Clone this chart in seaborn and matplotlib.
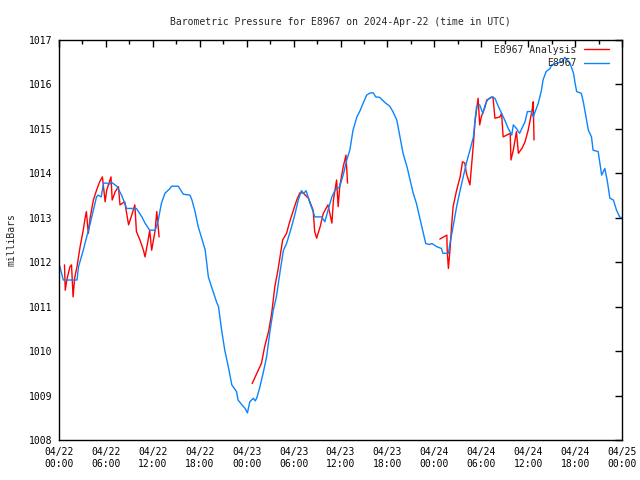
import matplotlib
matplotlib.use("Agg")
import matplotlib.pyplot as plt
import matplotlib.dates as mdates
import pandas as pd
import seaborn as sns

START = pd.Timestamp("2024-04-22 00:00")

# station readings (hours after 04/22 00:00 UTC, millibars)
station_hours = [
    0.1, 0.55, 2.3, 2.5, 3.1, 3.5, 4.0, 4.4, 4.8, 5.0, 5.4, 5.7, 6.1, 6.4, 6.7, 7.4,
    8.0, 8.4, 8.65, 9.9, 10.6, 11.0, 11.6, 12.3, 12.7, 13.1, 13.55, 14.2, 14.4, 15.25,
    15.9, 16.75, 17.0, 17.4, 17.8, 18.2, 18.7, 19.1, 19.5, 20.2, 20.4, 20.8, 21.2,
    21.65, 22.1, 22.7, 22.9, 23.4, 23.8, 24.1, 24.4, 24.85, 25.1, 25.3, 25.7, 26.1,
    26.55, 27.0, 27.4, 27.8, 28.3, 28.7, 29.1, 29.75, 30.2, 30.6, 31.0, 31.3, 31.6,
    32.1, 32.5, 32.7, 33.6, 34.0, 34.4, 34.9, 35.3, 35.9, 36.4, 36.8, 37.2, 37.6,
    38.1, 38.5, 38.9, 39.35, 39.8, 40.2, 40.5, 41.0, 41.7, 42.3, 42.7, 43.2, 43.6,
    44.0, 44.5, 44.9, 45.3, 45.7, 46.2, 46.6, 46.9, 47.4, 47.7, 48.3, 48.9, 49.1,
    49.8, 50.0, 50.4, 50.85, 51.3, 51.7, 52.1, 52.55, 53.0, 53.2, 53.4, 53.8, 54.2,
    54.5, 54.8, 55.3, 55.75, 56.2, 56.6, 57.0, 57.45, 57.9, 58.1, 58.5, 58.9, 59.2,
    59.6, 59.9, 60.4, 60.65, 60.9, 61.3, 61.7, 61.9, 62.3, 62.8, 63.0, 64.3, 64.7,
    65.35, 65.8, 66.0, 66.2, 66.8, 67.05, 67.7, 68.1, 68.3, 68.95, 69.2, 69.4, 69.8,
    70.1, 70.45, 70.9, 71.3, 71.7, 72.0,
]
station_mb = [
    1011.91, 1011.6, 1011.6, 1011.9, 1012.27, 1012.54, 1012.88, 1013.17, 1013.47,
    1013.51, 1013.47, 1013.78, 1013.78, 1013.75, 1013.8, 1013.71, 1013.51, 1013.33,
    1013.21, 1013.21, 1013.02, 1012.88, 1012.72, 1012.72, 1012.95, 1013.33, 1013.55,
    1013.66, 1013.71, 1013.71, 1013.53, 1013.51, 1013.4, 1013.14, 1012.8, 1012.57,
    1012.27, 1011.67, 1011.45, 1011.08, 1011.0, 1010.47, 1010.02, 1009.65, 1009.24,
    1009.09, 1008.9, 1008.79, 1008.71, 1008.61, 1008.86, 1008.94, 1008.88, 1008.95,
    1009.2, 1009.5, 1009.87, 1010.47, 1010.92, 1011.22, 1011.82, 1012.27, 1012.42,
    1012.8, 1013.1, 1013.4, 1013.61, 1013.55, 1013.61, 1013.33, 1013.14, 1013.02,
    1013.02, 1012.91, 1013.17, 1013.47, 1013.62, 1013.7, 1014.0, 1014.3, 1014.53,
    1014.97, 1015.27, 1015.41, 1015.58, 1015.76, 1015.81, 1015.81, 1015.72, 1015.71,
    1015.59, 1015.51, 1015.39, 1015.2, 1014.82, 1014.45, 1014.15, 1013.85, 1013.55,
    1013.33, 1012.95, 1012.65, 1012.42, 1012.4, 1012.42, 1012.35, 1012.31, 1012.2,
    1012.2, 1012.42, 1012.8, 1013.25, 1013.62, 1013.92, 1014.23, 1014.52, 1014.82,
    1015.2, 1015.5, 1015.54, 1015.35, 1015.54, 1015.65, 1015.72, 1015.69, 1015.5,
    1015.35, 1015.2, 1015.01, 1014.86, 1015.09, 1015.01, 1014.9, 1015.01, 1015.16,
    1015.39, 1015.39, 1015.27, 1015.39, 1015.58, 1015.87, 1016.1, 1016.29, 1016.36,
    1016.44, 1016.51, 1016.61, 1016.48, 1016.25, 1016.03, 1015.84, 1015.8, 1015.61,
    1014.97, 1014.82, 1014.52, 1014.49, 1014.19, 1013.96, 1014.11, 1013.85, 1013.44,
    1013.4, 1013.17, 1013.02, 1013.0,
]

# analysis, three separate runs with gaps between them
analysis_hours_1 = [
    0.7, 0.8, 1.0, 1.4, 1.6, 1.8, 2.0, 2.3, 2.7, 3.1, 3.3, 3.5, 3.75, 4.0, 4.4, 4.8,
    5.2, 5.55, 5.9, 6.1, 6.65, 6.8, 7.2, 7.6, 7.8, 8.4, 8.9, 9.3, 9.7, 9.9, 10.35,
    10.8, 11.0, 11.4, 11.6, 11.85, 12.3, 12.5, 12.8,
]
analysis_mb_1 = [
    1011.94, 1011.37, 1011.6, 1011.9, 1011.94, 1011.22, 1011.64, 1011.9, 1012.35,
    1012.72, 1012.95, 1013.14, 1012.65, 1013.02, 1013.4, 1013.62, 1013.81, 1013.92,
    1013.36, 1013.62, 1013.92, 1013.4, 1013.59, 1013.7, 1013.29, 1013.36, 1012.84,
    1013.06, 1013.29, 1012.69, 1012.5, 1012.27, 1012.12, 1012.5, 1012.72, 1012.27,
    1012.72, 1013.14, 1012.57,
]
analysis_hours_2 = [
    24.7, 25.3, 25.9, 26.3, 26.8, 27.2, 27.6, 28.0, 28.6, 29.1, 29.5, 30.4, 30.8,
    31.2, 31.9, 32.5, 32.7, 32.95, 33.4, 33.8, 34.4, 34.9, 35.1, 35.5, 35.7, 35.9,
    36.35, 36.7, 36.9,
]
analysis_mb_2 = [
    1009.27, 1009.5, 1009.73, 1010.1, 1010.44, 1010.85, 1011.45, 1011.82, 1012.5,
    1012.65, 1012.91, 1013.4, 1013.56, 1013.56, 1013.44, 1013.17, 1012.69, 1012.54,
    1012.8, 1013.1, 1013.29, 1012.88, 1013.4, 1013.85, 1013.25, 1013.7, 1014.15,
    1014.41, 1013.78,
]
analysis_hours_3 = [
    48.7, 49.6, 49.65, 49.8, 50.0, 50.2, 50.4, 50.85, 51.3, 51.6, 51.9, 52.1, 52.55,
    52.75, 53.0, 53.2, 53.6, 53.8, 54.0, 54.5, 54.7, 55.1, 55.5, 55.75, 56.4, 56.6,
    56.8, 57.25, 57.7, 57.8, 58.1, 58.5, 58.75, 59.2, 59.6, 60.0, 60.5, 60.65, 60.75,
]
analysis_mb_3 = [
    1012.52, 1012.61, 1012.24, 1011.86, 1012.27, 1012.8, 1013.25, 1013.62, 1013.92,
    1014.26, 1014.23, 1014.0, 1013.74, 1014.15, 1014.67, 1015.16, 1015.69, 1015.09,
    1015.27, 1015.5, 1015.65, 1015.69, 1015.72, 1015.24, 1015.27, 1015.35, 1014.82,
    1014.86, 1014.9, 1014.3, 1014.52, 1014.94, 1014.45, 1014.56, 1014.71, 1014.97,
    1015.42, 1015.61, 1014.75,
]

y_ticks = list(range(1008, 1018))

sns.set_style("white")
plt.rcParams["font.family"] = ["DejaVu Sans Mono"]
plt.rcParams["font.size"] = 7

station = pd.DataFrame({
    "time": START + pd.to_timedelta(station_hours, unit="h"),
    "mb": station_mb,
})
runs = []
for i, (hrs, vals) in enumerate(
    [(analysis_hours_1, analysis_mb_1), (analysis_hours_2, analysis_mb_2),
     (analysis_hours_3, analysis_mb_3)]
):
    runs.append(pd.DataFrame({
        "time": START + pd.to_timedelta(hrs, unit="h"),
        "mb": vals,
        "run": i,
    }))
analysis = pd.concat(runs, ignore_index=True)

fig = plt.figure(figsize=(6.4, 4.8), dpi=100)
ax = fig.add_axes([59 / 640, 40 / 480, 563 / 640, 400 / 480])

sns.lineplot(data=analysis, x="time", y="mb", units="run", estimator=None,
             color="#ff0000", linewidth=1.0, ax=ax, label="E8967 Analysis")
sns.lineplot(data=station, x="time", y="mb", color="#0a84ff", linewidth=1.0,
             ax=ax, label="E8967")

ax.set_xlim(START, START + pd.Timedelta(hours=72))
ax.set_ylim(1008, 1017)
ax.set_yticks(y_ticks)
ax.xaxis.set_major_locator(mdates.HourLocator(byhour=[0, 6, 12, 18]))
ax.xaxis.set_minor_locator(mdates.HourLocator(byhour=range(0, 24, 3)))
ax.xaxis.set_major_formatter(mdates.DateFormatter("%m/%d\n%H:%M"))
ax.tick_params(which="both", direction="in", top=True, right=True, width=1,
               colors="black", labelsize=7)
ax.tick_params(which="major", length=5, pad=5)
ax.tick_params(which="minor", length=3)
for s in ax.spines.values():
    s.set_color("black")
    s.set_linewidth(1)

ax.set_title("Barometric Pressure for E8967 on 2024-Apr-22 (time in UTC)",
             fontsize=7, pad=11)
ax.set_xlabel("")
ax.set_ylabel("milliBars", fontsize=7, labelpad=9)

handles, labels = ax.get_legend_handles_labels()
unique = dict(zip(labels, handles))
ax.legend(list(unique.values()), list(unique.keys()), loc="upper right",
          bbox_to_anchor=(0.985, 1.0), frameon=False, markerfirst=False,
          fontsize=7, handlelength=2.5, handletextpad=0.8, labelspacing=0.35,
          borderaxespad=0.1)

fig.savefig("out.png", dpi=100)
